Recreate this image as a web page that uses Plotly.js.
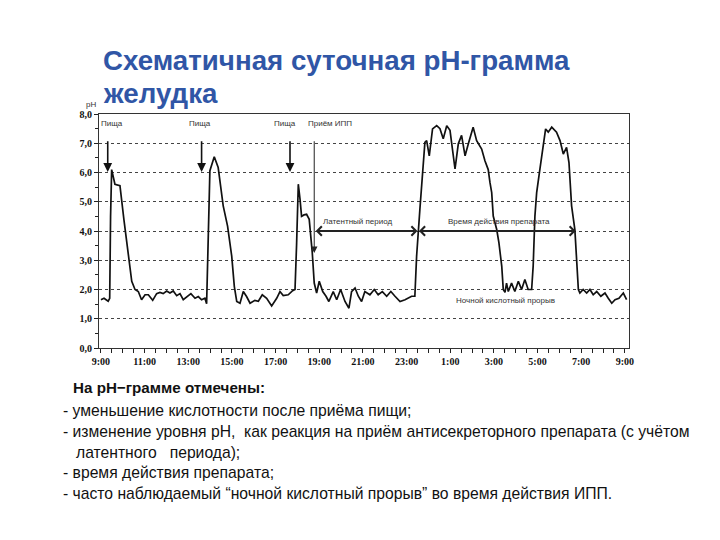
<!DOCTYPE html>
<html>
<head>
<meta charset="utf-8">
<script src="https://cdn.plot.ly/plotly-3.0.1.min.js"></script>
<style>html,body{margin:0;padding:0;background:#fff;}#chart{width:720px;height:540px;}</style>
</head>
<body>
<div id="chart"></div>
<script>
// hours since 9:00
const hours = [0, 0.14, 0.33, 0.40, 0.44, 0.49, 0.64, 0.87, 1.05, 1.22, 1.41, 1.56, 1.71, 1.86, 2.02, 2.17, 2.37, 2.55, 2.70, 2.85, 3.01, 3.16, 3.31, 3.47, 3.62, 3.77, 3.93, 4.12, 4.31, 4.46, 4.61, 4.76, 4.84, 4.92, 4.99, 5.19, 5.37, 5.60, 5.80, 5.99, 6.11, 6.22, 6.37, 6.52, 6.67, 6.83, 7.05, 7.21, 7.39, 7.59, 7.82, 8.05, 8.20, 8.35, 8.58, 8.78, 8.89, 8.96, 9.01, 9.04, 9.12, 9.19, 9.30, 9.42, 9.54, 9.62, 9.68, 9.77, 9.88, 10.00, 10.16, 10.31, 10.44, 10.64, 10.80, 10.98, 11.18, 11.36, 11.48, 11.64, 11.79, 11.94, 12.09, 12.32, 12.52, 12.70, 12.89, 13.09, 13.28, 13.47, 13.70, 13.93, 14.23, 14.38, 14.46, 14.61, 14.72, 14.84, 14.92, 15.04, 15.19, 15.38, 15.53, 15.68, 15.84, 15.99, 16.22, 16.37, 16.52, 16.68, 16.83, 17.05, 17.21, 17.44, 17.59, 17.74, 17.82, 17.90, 17.97, 18.13, 18.23, 18.36, 18.43, 18.51, 18.58, 18.66, 18.81, 18.96, 19.12, 19.27, 19.42, 19.57, 19.73, 19.80, 19.88, 19.96, 20.11, 20.26, 20.37, 20.49, 20.65, 20.87, 21.03, 21.18, 21.33, 21.44, 21.56, 21.71, 21.87, 21.94, 22.09, 22.25, 22.40, 22.55, 22.71, 22.90, 23.09, 23.24, 23.40, 23.55, 23.73, 23.93, 24.08];
const ph = [1.65, 1.7, 1.6, 1.7, 4.5, 6.1, 5.6, 5.55, 4.4, 3.3, 2.28, 2.0, 1.93, 1.65, 1.82, 1.82, 1.63, 1.86, 1.9, 1.86, 1.95, 1.88, 1.95, 1.79, 1.86, 1.65, 1.74, 1.86, 1.7, 1.76, 1.65, 1.7, 1.51, 4.5, 6.06, 6.54, 6.17, 4.86, 4.17, 3.14, 2.1, 1.59, 1.53, 1.93, 1.76, 1.53, 1.63, 1.6, 1.82, 1.7, 1.44, 1.7, 1.93, 1.79, 1.82, 1.96, 2.0, 3.5, 5.0, 5.6, 5.08, 4.5, 4.55, 4.57, 4.4, 3.83, 3.26, 2.22, 1.88, 2.28, 1.93, 1.77, 1.59, 1.93, 1.65, 2.0, 1.59, 1.36, 1.93, 2.05, 1.77, 1.59, 1.93, 1.82, 2.0, 1.82, 1.93, 1.77, 1.93, 1.77, 1.59, 1.65, 1.77, 1.77, 3.14, 4.74, 6.0, 7.03, 7.09, 6.57, 7.49, 7.6, 7.5, 7.15, 7.6, 7.44, 6.12, 6.98, 7.27, 6.57, 6.98, 7.55, 7.09, 6.8, 6.4, 6.1, 5.66, 5.31, 4.51, 4.05, 3.6, 2.8, 2.0, 1.9, 2.22, 1.93, 2.22, 1.93, 2.28, 2.0, 2.34, 2.0, 2.0, 2.8, 4.51, 5.31, 6.12, 7.03, 7.49, 7.38, 7.55, 7.38, 7.09, 6.63, 6.86, 6.34, 4.86, 4.05, 2.0, 1.88, 2.0, 1.88, 2.0, 1.82, 1.93, 1.77, 1.88, 1.7, 1.53, 1.65, 1.7, 1.88, 1.65];

const tickHours = [0, 2, 4, 6, 8, 10, 12, 14, 16, 18, 20, 22, 24];
const tickLabels = ['9:00', '11:00', '13:00', '15:00', '17:00', '19:00', '21:00', '23:00', '1:00', '3:00', '5:00', '7:00', '9:00'];

const mealHours = [0.31, 4.61, 8.66];
const mealLabel = 'Пища';
const ippHour = 9.77;
const ippLabel = 'Приём ИПП';
const latentEnd = 14.5;
const actionEnd = 21.75;
const latentLabel = 'Латентный период';
const actionLabel = 'Время действия препарата';
const nightLabel = 'Ночной кислотный прорыв';

const titleLines = ['Схематичная суточная pH-грамма', 'желудка'];
const noteHeader = 'На pH−грамме отмечены:';
const noteLines = [
  '- уменьшение кислотности после приёма пищи;',
  '- изменение уровня pH,\u00A0 как реакция на приём антисекреторного препарата (с учётом',
  'латентного \u00A0 периода);',
  '- время действия препарата;',
  '- часто наблюдаемый “ночной кислотный прорыв” во время действия ИПП.'
];

const L = 99, R = 91, T = 114, B = 192, W = 720, H = 540;
const pw = W - L - R, phh = H - T - B;
const px = v => (v - L) / pw;
const py = v => (H - B - v) / phh;

const annotations = [];
const small = {family: 'Liberation Sans, Arial, sans-serif', size: 8, color: '#333'};
mealHours.forEach((h, i) => {
  annotations.push({x: h, y: 6.02, ax: h, ay: 7.12, xref: 'x', yref: 'y', axref: 'x', ayref: 'y',
    text: '', showarrow: true, arrowhead: 2, arrowsize: 1.1, arrowwidth: 1.6, arrowcolor: '#111'});
});
const mealLabelX = [0.50, 4.54, 8.43];
mealLabelX.forEach(h => annotations.push({x: h, y: 7.66, xref: 'x', yref: 'y', text: mealLabel, showarrow: false, font: small}));
annotations.push({x: 10.47, y: 7.68, xref: 'x', yref: 'y', text: ippLabel, showarrow: false, font: small});
annotations.push({x: ippHour, y: 3.25, ax: ippHour, ay: 7.12, xref: 'x', yref: 'y', axref: 'x', ayref: 'y',
  text: '', showarrow: true, arrowhead: 2, arrowsize: 1.3, arrowwidth: 1, arrowcolor: '#222'});
annotations.push({x: latentEnd, y: 4, ax: ippHour, ay: 4, xref: 'x', yref: 'y', axref: 'x', ayref: 'y',
  text: '', showarrow: true, arrowside: 'end+start', arrowhead: 4, arrowsize: 1, arrowwidth: 1.8, arrowcolor: '#222'});
annotations.push({x: actionEnd, y: 4, ax: latentEnd, ay: 4, xref: 'x', yref: 'y', axref: 'x', ayref: 'y',
  text: '', showarrow: true, arrowside: 'end+start', arrowhead: 4, arrowsize: 1, arrowwidth: 1.8, arrowcolor: '#222'});
annotations.push({x: 11.73, y: 4.34, xref: 'x', yref: 'y', text: latentLabel, showarrow: false, font: small});
annotations.push({x: 18.23, y: 4.34, xref: 'x', yref: 'y', text: actionLabel, showarrow: false, font: small});
annotations.push({x: 18.51, y: 1.61, xref: 'x', yref: 'y', text: nightLabel, showarrow: false, font: small});
annotations.push({x: px(84), y: py(98), xref: 'paper', yref: 'paper', text: 'pH', showarrow: false, font: small});

const titleFont = {family: 'Liberation Sans, Arial, sans-serif', size: 27.7, color: '#3056A6', weight: 'bold'};
annotations.push({x: px(101), y: py(61), xref: 'paper', yref: 'paper', xanchor: 'left', yanchor: 'middle', text: titleLines[0], showarrow: false, font: titleFont});
annotations.push({x: px(101), y: py(93), xref: 'paper', yref: 'paper', xanchor: 'left', yanchor: 'middle', text: titleLines[1], showarrow: false, font: titleFont});

const noteFont = {family: 'Liberation Sans, Arial, sans-serif', size: 15.7, color: '#111'};
annotations.push({x: px(71), y: py(387), xref: 'paper', yref: 'paper', xanchor: 'left', yanchor: 'middle', text: noteHeader, showarrow: false, font: Object.assign({}, noteFont, {weight: 'bold', size: 15.2})});
const noteY = [410, 431, 452, 472, 493];
const noteX = [61, 61, 74, 61, 61];
noteLines.forEach((t, i) => annotations.push({x: px(noteX[i]), y: py(noteY[i]), xref: 'paper', yref: 'paper', xanchor: 'left', yanchor: 'middle', text: t, showarrow: false, font: noteFont}));

const tickFont = {family: 'Liberation Serif, Times New Roman, serif', size: 10, color: '#111', weight: 'bold'};

Plotly.newPlot('chart', [{
  x: hours, y: ph, type: 'scatter', mode: 'lines',
  line: {color: '#111', width: 1.7}, hoverinfo: 'skip'
}], {
  width: W, height: H,
  margin: {l: L, r: R, t: T, b: B},
  paper_bgcolor: '#fff', plot_bgcolor: '#fff',
  separators: ',.',
  showlegend: false,
  xaxis: {
    range: [-0.09, 24.19], tickmode: 'array', tickvals: tickHours, ticktext: tickLabels,
    ticks: 'outside', ticklen: 4, tickcolor: '#222', tickfont: tickFont,
    showgrid: false, zeroline: false, showline: true, mirror: true, linecolor: '#333', linewidth: 1,
    minor: {tickmode: 'linear', tick0: 0, dtick: 0.5, ticks: 'outside', ticklen: 4, tickcolor: '#222', showgrid: false}
  },
  yaxis: {
    range: [0, 8], tickmode: 'linear', tick0: 0, dtick: 1, tickformat: '.1f',
    ticks: 'outside', ticklen: 4, tickcolor: '#222', tickfont: tickFont,
    showgrid: true, gridcolor: '#444', gridwidth: 1, griddash: 'dot', zeroline: false,
    showline: true, mirror: true, linecolor: '#333', linewidth: 1,
    minor: {tickmode: 'linear', tick0: 0, dtick: 0.5, ticks: 'outside', ticklen: 3, tickcolor: '#222', showgrid: false}
  },
  annotations: annotations
}, {displayModeBar: false, staticPlot: true});
</script>
</body>
</html>
